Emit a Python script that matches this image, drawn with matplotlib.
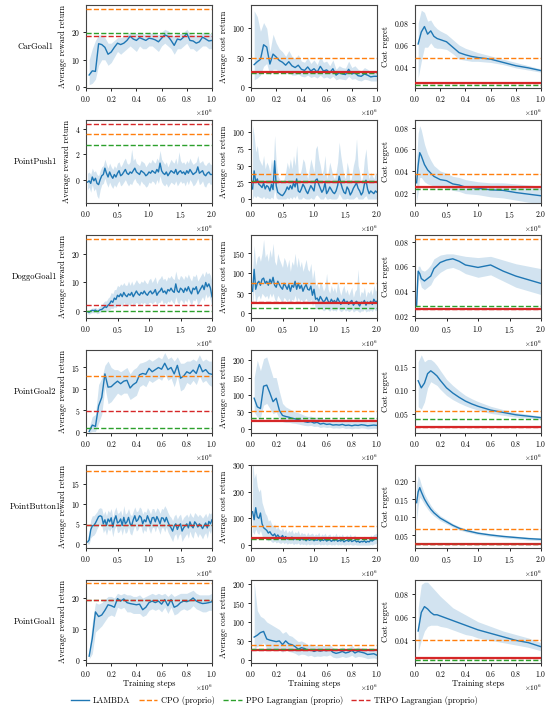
"""
    LAMBDA vs. proprioceptive baselines on Safety Gym tasks
    reward return / cost return / cost regret, one row per task
"""

import matplotlib.pyplot as plt
from matplotlib.lines import Line2D
import numpy as np

plt.rcParams['font.family'] = 'serif'
plt.rcParams['font.serif'] = ['cmr10', 'DejaVu Serif']
plt.rcParams['mathtext.fontset'] = 'cm'
plt.rcParams['axes.formatter.use_mathtext'] = True
plt.rcParams['font.size'] = 6

tasks = ['CarGoal1', 'PointPush1', 'DoggoGoal1', 'PointGoal2', 'PointButton1', 'PointGoal1']
total_steps = [1.0, 2.0, 2.0, 1.0, 2.0, 1.0]   # millions

# evaluation points (millions of steps)
x_1m = [0.025 * k for k in range(1, 41)]
x_2m = [0.025 * k for k in range(1, 81)]
reg_x_1m = [0.025, 0.05, 0.075, 0.1, 0.125, 0.15, 0.175, 0.2, 0.25, 0.3, 0.35, 0.4, 0.45, 0.5, 0.6, 0.7, 0.8, 0.9, 1.0]
reg_x_2m = [0.025, 0.05, 0.075, 0.1, 0.15, 0.2, 0.25, 0.3, 0.4, 0.5, 0.6, 0.7, 0.8, 1.0, 1.2, 1.4, 1.6, 1.8, 2.0]

# ---------------- CarGoal1 ----------------
cg1_rew = [4.5, 6.0, 5.8, 15.8, 15.5, 14.5, 12.0, 12.8, 14.5, 16.0, 15.5, 16.0, 17.0, 18.5, 17.5, 17.0, 18.0, 17.5, 17.0, 17.8,
           17.6, 17.2, 16.5, 17.8, 19.0, 18.5, 17.0, 15.2, 17.5, 17.2, 18.2, 19.5, 17.0, 16.8, 16.0, 16.5, 18.2, 17.5, 16.8, 17.0]
cg1_rew_lo = [1, 1.5, 3, 8, 10, 10, 8, 9, 11, 13, 12, 13, 14, 15, 14, 13, 15, 14, 14, 15,
              15, 14, 13, 15, 16, 15, 14, 12, 14, 14, 15, 16, 14, 14, 13, 14, 15, 15, 14, 14]
cg1_rew_hi = [10, 14, 17, 19, 19, 18, 16, 16, 17, 18, 18, 18.5, 19, 20, 19.5, 19.5, 20, 19.5, 19, 20,
              19.5, 19.5, 19, 20, 21, 20.5, 19.5, 18.5, 19.5, 19.5, 20, 21, 19.5, 19, 19, 19, 20, 19.5, 19.5, 19.5]
cg1_cost = [38, 43, 47, 72, 68, 39, 56, 51, 45, 42, 37, 43, 36, 33, 37, 30, 28, 34, 27, 31,
            25, 35, 27, 29, 24, 31, 20, 24, 22, 21, 30, 22, 24, 19, 18, 22, 20, 17, 18, 18]
cg1_cost_lo = [12, 15, 20, 35, 40, 20, 30, 30, 25, 25, 22, 25, 20, 20, 22, 18, 17, 20, 16, 18,
               15, 20, 15, 17, 14, 18, 12, 14, 13, 12, 18, 13, 14, 11, 10, 13, 12, 10, 10, 10]
cg1_cost_hi = [130, 120, 95, 110, 100, 60, 90, 75, 65, 60, 52, 62, 52, 48, 55, 44, 42, 50, 40, 46,
               38, 52, 42, 44, 36, 46, 30, 36, 33, 32, 44, 33, 36, 30, 27, 33, 30, 26, 28, 28]
cg1_reg = [0.061, 0.072, 0.077, 0.070, 0.073, 0.068, 0.066, 0.065, 0.063, 0.058, 0.053, 0.051, 0.0495, 0.0485, 0.047, 0.044, 0.041, 0.039, 0.0365]
cg1_reg_lo = [0.030, 0.045, 0.058, 0.058, 0.062, 0.058, 0.057, 0.057, 0.056, 0.052, 0.047, 0.046, 0.045, 0.045, 0.044, 0.042, 0.039, 0.037, 0.035]
cg1_reg_hi = [0.080, 0.092, 0.090, 0.082, 0.083, 0.078, 0.075, 0.073, 0.070, 0.065, 0.060, 0.057, 0.055, 0.053, 0.050, 0.047, 0.044, 0.041, 0.038]

# ---------------- PointPush1 ----------------
pp1_rew = [-0.2, -0.1, -0.3, 0.2, -0.1, 0.1, -0.3, -0.4, 0.0, 0.3, 0.4, 0.9, 0.5, 0.2, 0.6, 0.3, 0.1, 0.4, 0.2, 0.5,
           0.7, 0.3, 0.4, 0.6, 0.8, 0.5, 0.4, 0.6, 0.5, 0.7, 0.9, 0.6, 0.5, 0.4, 0.7, 0.6, 0.5, 0.3, 0.4, 0.6,
           0.5, 0.7, 0.6, 0.5, 0.8, 0.6, 1.3, 0.7, 0.5, 0.4, 0.6, 0.3, 0.5, 0.7, 0.6, 0.5, 0.8, 0.4, 0.6, 0.7,
           0.5, 0.6, 0.4, 0.7, 0.5, 0.8, 0.6, 0.4, 0.5, 0.6, 1.0, 0.5, 0.6, 0.7, 0.4, 0.3, 0.5, 0.6, 0.4, 0.4]
pp1_rew_lo = [-0.8, -0.6, -1.0, -0.4, -0.9, -0.7, -1.3, -1.5, -0.8, -0.4, -0.3, 0.1, -0.3, -0.6, -0.2, -0.5, -0.7, -0.4, -0.6, -0.3,
              -0.1, -0.5, -0.4, -0.2, 0.0, -0.3, -0.5, -0.3, -0.4, -0.1, 0.1, -0.2, -0.3, -0.5, -0.1, -0.3, -0.4, -0.6, -0.5, -0.2,
              -0.3, -0.1, -0.2, -0.4, 0.0, -0.3, 0.3, -0.2, -0.4, -0.5, -0.3, -0.6, -0.4, -0.2, -0.3, -0.4, -0.1, -0.5, -0.3, -0.1,
              -0.3, -0.2, -0.5, -0.1, -0.4, 0.0, -0.2, -0.5, -0.4, -0.2, 0.1, -0.4, -0.3, -0.1, -0.5, -0.6, -0.3, -0.2, -0.4, -0.3]
pp1_rew_hi = [0.5, 0.6, 0.4, 0.9, 0.6, 0.7, 0.4, 0.3, 0.7, 1.0, 1.1, 1.6, 1.2, 0.9, 1.3, 1.0, 0.8, 1.1, 0.9, 1.3,
              1.4, 1.0, 1.2, 1.5, 1.7, 1.3, 1.2, 1.4, 2.4, 1.5, 1.7, 1.3, 1.2, 1.1, 1.5, 1.4, 1.3, 1.0, 1.2, 1.4,
              1.3, 1.6, 1.4, 1.3, 1.7, 1.5, 2.3, 1.6, 1.4, 1.2, 1.4, 1.0, 1.3, 1.6, 1.4, 1.3, 1.7, 1.2, 2.2, 1.5,
              1.3, 1.4, 1.2, 1.5, 1.3, 1.7, 1.4, 1.2, 1.3, 1.4, 1.9, 1.3, 1.4, 1.5, 1.2, 1.1, 1.3, 1.4, 1.2, 1.2]
pp1_cost = [15, 42, 25, 30, 22, 20, 17, 24, 15, 20, 18, 12, 22, 14, 57, 20, 10, 8, 6, 5,
            8, 12, 18, 14, 20, 15, 24, 18, 30, 12, 10, 15, 22, 18, 12, 8, 14, 20, 16, 12,
            28, 30, 22, 16, 10, 14, 24, 8, 12, 18, 14, 10, 8, 12, 20, 34, 24, 16, 10, 8,
            18, 14, 6, 10, 16, 20, 24, 16, 12, 6, 10, 22, 28, 15, 8, 12, 10, 8, 12, 10]
pp1_cost_lo = [0, 5, 2, 5, 3, 2, 1, 4, 0, 2, 1, 0, 3, 0, 15, 2, 0, 0, 0, 0,
               0, 0, 2, 0, 3, 0, 4, 1, 6, 0, 0, 0, 3, 1, 0, 0, 0, 2, 0, 0,
               5, 6, 3, 0, 0, 0, 4, 0, 0, 1, 0, 0, 0, 0, 2, 8, 4, 0, 0, 0,
               1, 0, 0, 0, 0, 2, 4, 0, 0, 0, 0, 3, 5, 0, 0, 0, 0, 0, 0, 0]
pp1_cost_hi = [110, 95, 70, 80, 60, 55, 50, 65, 45, 55, 50, 40, 60, 45, 95, 55, 35, 30, 28, 25,
               30, 40, 55, 45, 60, 45, 65, 50, 80, 40, 35, 45, 60, 55, 40, 30, 45, 60, 50, 40,
               75, 80, 60, 50, 35, 45, 65, 30, 40, 55, 45, 35, 30, 40, 55, 85, 65, 50, 35, 30,
               55, 45, 25, 35, 50, 60, 90, 50, 40, 25, 35, 60, 75, 45, 30, 40, 35, 30, 40, 35]
pp1_reg = [0.029, 0.045, 0.057, 0.054, 0.046, 0.041, 0.038, 0.035, 0.032, 0.031, 0.028, 0.027, 0.025, 0.024, 0.0225, 0.022, 0.020, 0.0185, 0.017]
pp1_reg_lo = [0.012, 0.020, 0.034, 0.034, 0.030, 0.028, 0.027, 0.026, 0.025, 0.024, 0.022, 0.021, 0.019, 0.018, 0.016, 0.015, 0.013, 0.011, 0.010]
pp1_reg_hi = [0.050, 0.075, 0.082, 0.078, 0.065, 0.056, 0.050, 0.045, 0.040, 0.038, 0.035, 0.034, 0.032, 0.030, 0.029, 0.029, 0.028, 0.027, 0.026]

# ---------------- DoggoGoal1 ----------------
dg1_rew = [-0.3, -0.5, 0.0, 0.2, 0.1, 0.3, -0.2, 0.0, 0.4, 0.5, 1.0, 1.5, 1.2, 2.0, 2.5, 3.5, 3.0, 4.5, 4.0, 5.5,
           5.0, 6.0, 5.0, 6.5, 5.5, 5.0, 6.0, 5.5, 6.5, 5.0, 6.0, 7.0, 6.0, 5.5, 6.5, 6.0, 7.0, 6.0, 5.5, 6.5,
           7.0, 6.0, 6.5, 7.5, 5.5, 6.5, 7.0, 8.0, 6.5, 7.0, 6.0, 7.5, 7.0, 8.0, 7.0, 6.5, 9.5, 7.0, 6.5, 8.0,
           7.5, 6.5, 8.0, 7.0, 8.5, 7.0, 6.0, 8.0, 7.5, 8.5, 6.0, 7.0, 8.0, 9.0, 7.5, 10.0, 8.5, 9.5, 8.0, 5.0]
dg1_rew_lo = [-1.0, -1.2, -0.8, -0.6, -0.7, -0.5, -1.0, -0.8, -0.4, -0.3, -0.2, 0.0, -0.2, 0.2, 0.5, 1.0, 0.8, 1.5, 1.2, 2.0,
              1.5, 2.5, 1.5, 3.0, 2.0, 1.5, 2.5, 2.0, 3.0, 1.5, 2.5, 3.0, 2.5, 2.0, 3.0, 2.5, 3.0, 2.5, 2.0, 3.0,
              3.0, 2.5, 3.0, 3.5, 2.0, 3.0, 3.0, 4.0, 2.5, 3.0, 2.5, 3.5, 3.0, 4.0, 3.0, 2.5, 5.0, 3.0, 2.5, 4.0,
              3.5, 2.5, 4.0, 3.0, 4.5, 3.0, 2.0, 4.0, 3.5, 4.5, 2.0, 3.0, 4.0, 5.0, 3.5, 6.0, 4.5, 5.5, 4.0, 1.5]
dg1_rew_hi = [0.5, 0.3, 0.8, 1.0, 1.0, 1.3, 0.8, 1.2, 1.8, 2.0, 3.0, 3.5, 3.5, 4.5, 5.0, 6.5, 6.0, 7.5, 7.5, 9.0,
              8.5, 9.5, 9.0, 10.0, 9.0, 9.0, 10.5, 9.0, 10.5, 9.0, 10.0, 11.0, 10.0, 9.5, 10.5, 10.0, 11.0, 10.0, 9.5, 11.0,
              11.5, 10.0, 11.0, 12.0, 9.5, 11.0, 11.5, 12.5, 11.0, 11.5, 10.5, 12.0, 11.5, 12.5, 11.5, 11.0, 14.0, 11.5, 11.0, 12.5,
              12.0, 11.0, 12.5, 11.5, 13.0, 11.5, 10.5, 12.5, 12.0, 13.0, 10.5, 11.5, 12.5, 13.5, 12.0, 14.0, 13.0, 13.5, 12.5, 10.0]
dg1_cost = [55, 110, 60, 75, 80, 70, 85, 88, 75, 80, 70, 85, 75, 90, 70, 65, 80, 72, 65, 60,
            75, 68, 60, 72, 55, 70, 65, 80, 60, 75, 62, 70, 55, 65, 72, 60, 58, 68, 45, 60,
            35, 38, 30, 42, 35, 28, 32, 40, 30, 25, 35, 28, 32, 25, 38, 30, 22, 28, 35, 25,
            30, 22, 28, 32, 20, 26, 30, 24, 18, 28, 25, 32, 20, 28, 24, 30, 22, 35, 28, 30]
dg1_cost_lo = [20, 60, 25, 40, 45, 35, 50, 45, 40, 45, 35, 50, 40, 50, 35, 30, 45, 38, 32, 28,
               40, 35, 28, 38, 25, 35, 32, 45, 28, 40, 30, 35, 25, 32, 38, 28, 26, 35, 18, 28,
               10, 12, 8, 15, 10, 6, 8, 14, 8, 5, 10, 6, 8, 5, 12, 8, 4, 6, 10, 5,
               8, 4, 6, 10, 3, 6, 8, 5, 2, 6, 5, 10, 3, 6, 5, 8, 4, 12, 6, 8]
dg1_cost_hi = [110, 170, 120, 140, 145, 130, 150, 185, 140, 150, 130, 160, 140, 175, 130, 120, 150, 135, 125, 115,
               140, 130, 115, 135, 105, 130, 120, 150, 115, 140, 115, 130, 105, 120, 135, 110, 105, 125, 85, 110,
               70, 75, 60, 80, 70, 55, 65, 100, 60, 50, 70, 55, 65, 50, 80, 60, 45, 60, 70, 50,
               60, 45, 55, 65, 40, 55, 60, 110, 40, 55, 50, 65, 40, 55, 50, 60, 45, 70, 55, 60]
dg1_reg = [0.028, 0.056, 0.054, 0.050, 0.048, 0.050, 0.052, 0.058, 0.063, 0.065, 0.066, 0.064, 0.061, 0.059, 0.061, 0.056, 0.052, 0.049, 0.046]
dg1_reg_lo = [0.022, 0.050, 0.048, 0.043, 0.041, 0.043, 0.045, 0.050, 0.055, 0.058, 0.059, 0.057, 0.054, 0.051, 0.053, 0.048, 0.043, 0.040, 0.037]
dg1_reg_hi = [0.045, 0.060, 0.060, 0.057, 0.056, 0.058, 0.061, 0.066, 0.069, 0.070, 0.070, 0.069, 0.068, 0.067, 0.068, 0.065, 0.062, 0.060, 0.058]

# ---------------- PointGoal2 ----------------
pg2_rew = [0.0, 1.5, 1.2, 6.0, 8.0, 13.5, 10.4, 10.5, 11.2, 11.8, 11.2, 11.8, 12.0, 10.2, 11.0, 11.5, 13.3, 13.6, 13.4, 14.8,
           14.0, 14.5, 15.0, 14.6, 16.0, 14.5, 15.0, 13.5, 15.5, 12.5, 13.0, 14.0, 13.6, 14.4, 13.6, 15.7, 14.0, 14.5, 13.6, 13.4]
pg2_rew_lo = [-0.3, 0.0, 0.0, 2.0, 4.0, 10.5, 6.5, 7.0, 8.0, 9.0, 8.5, 9.0, 9.0, 7.5, 8.0, 8.5, 10.5, 11.0, 10.5, 12.0,
              11.5, 12.0, 12.5, 12.0, 13.5, 12.0, 12.5, 10.5, 13.0, 9.5, 10.0, 11.5, 11.0, 12.0, 11.0, 13.0, 11.5, 12.0, 11.0, 10.5]
pg2_rew_hi = [1.0, 3.5, 4.0, 11.0, 12.5, 15.5, 16.5, 15.0, 14.5, 14.5, 14.0, 14.5, 15.0, 13.5, 14.5, 15.0, 16.0, 16.2, 16.5, 17.0,
              16.5, 17.0, 17.5, 17.0, 18.5, 17.0, 17.5, 16.5, 17.5, 16.0, 16.0, 16.5, 16.5, 17.0, 16.5, 18.0, 16.5, 17.0, 16.5, 16.5]
pg2_cost = [90, 65, 60, 125, 128, 105, 80, 90, 55, 40, 37, 35, 32, 30, 28, 25, 22, 20, 22, 18,
            20, 15, 17, 14, 15, 12, 13, 12, 14, 11, 12, 10, 12, 11, 13, 12, 10, 11, 12, 11]
pg2_cost_lo = [50, 35, 35, 70, 75, 60, 45, 50, 30, 22, 20, 20, 18, 17, 15, 13, 11, 10, 11, 8,
               9, 5, 7, 5, 6, 3, 4, 3, 5, 2, 3, 1, 3, 2, 4, 3, 1, 2, 3, 2]
pg2_cost_hi = [150, 200, 170, 205, 210, 180, 150, 150, 110, 75, 65, 60, 55, 50, 48, 44, 40, 37, 38, 34,
               35, 30, 32, 28, 29, 26, 27, 25, 27, 24, 25, 22, 24, 23, 25, 24, 21, 22, 23, 22]
pg2_reg = [0.120, 0.105, 0.115, 0.135, 0.141, 0.136, 0.130, 0.121, 0.105, 0.094, 0.085, 0.077, 0.071, 0.066, 0.058, 0.053, 0.048, 0.045, 0.042]
pg2_reg_lo = [0.065, 0.060, 0.075, 0.105, 0.118, 0.114, 0.110, 0.102, 0.089, 0.080, 0.073, 0.067, 0.062, 0.058, 0.051, 0.047, 0.043, 0.041, 0.039]
pg2_reg_hi = [0.160, 0.175, 0.160, 0.165, 0.165, 0.160, 0.152, 0.142, 0.123, 0.110, 0.099, 0.089, 0.082, 0.076, 0.066, 0.059, 0.053, 0.049, 0.045]

# ---------------- PointButton1 ----------------
pb1_rew = [0.5, 1.0, 3.5, 4.5, 4.6, 5.2, 6.0, 6.8, 7.0, 6.8, 5.0, 6.0, 4.6, 6.2, 5.5, 6.5, 4.2, 6.0, 7.0, 5.2,
           5.5, 6.2, 4.6, 6.6, 5.0, 5.5, 6.6, 5.0, 4.6, 6.0, 7.0, 5.6, 6.0, 7.0, 6.6, 5.0, 6.0, 5.5, 7.0, 6.0,
           5.0, 6.5, 6.6, 5.5, 6.8, 6.0, 5.0, 6.5, 6.4, 5.5, 6.6, 5.5, 4.6, 4.0, 3.2, 4.5, 5.0, 3.6, 4.6, 5.0,
           3.2, 4.0, 4.5, 5.0, 4.0, 5.5, 4.5, 4.0, 5.5, 5.0, 4.2, 5.0, 4.5, 3.8, 4.6, 5.2, 4.0, 5.6, 5.0, 6.0]
pb1_rew_lo = [0.0, 0.0, 1.5, 2.0, 2.2, 2.8, 3.8, 4.5, 4.8, 4.6, 2.8, 3.6, 2.2, 3.8, 3.2, 4.0, 1.8, 3.6, 4.6, 2.8,
              3.0, 3.8, 2.2, 4.0, 2.6, 3.0, 4.2, 2.6, 2.2, 3.6, 4.6, 3.2, 3.6, 4.6, 4.2, 2.6, 3.6, 3.0, 4.6, 3.6,
              2.6, 4.0, 4.2, 3.0, 4.4, 3.6, 2.4, 4.0, 4.0, 3.0, 4.2, 3.0, 2.2, 1.4, 0.6, 2.0, 2.6, 1.0, 2.2, 2.6,
              0.6, 1.4, 2.0, 2.6, 1.4, 3.2, 2.0, 1.4, 3.2, 2.6, 1.6, 2.6, 2.0, 1.2, 2.2, 2.8, 1.4, 3.4, 2.6, 4.0]
pb1_rew_hi = [1.5, 3.0, 6.0, 7.0, 7.0, 7.5, 8.0, 8.8, 9.0, 8.8, 7.2, 8.2, 7.0, 8.4, 7.8, 8.8, 6.6, 8.2, 9.2, 7.6,
              7.8, 8.4, 7.0, 9.5, 7.4, 7.8, 8.8, 7.4, 7.0, 8.2, 9.2, 8.0, 8.2, 9.2, 8.8, 7.4, 8.2, 7.8, 9.0, 8.4,
              7.4, 8.8, 8.8, 7.8, 9.0, 8.6, 7.6, 8.8, 8.6, 9.5, 8.8, 7.8, 7.0, 6.6, 5.8, 7.0, 7.4, 6.2, 7.0, 7.4,
              5.8, 6.6, 7.0, 7.4, 6.6, 7.8, 7.0, 6.6, 7.8, 7.4, 6.8, 7.4, 7.0, 6.4, 7.0, 7.6, 6.6, 7.8, 7.4, 8.0]
pb1_cost = [125, 95, 140, 105, 100, 120, 80, 65, 60, 55, 45, 50, 40, 35, 42, 30, 38, 30, 28, 36,
            25, 32, 22, 28, 24, 30, 20, 26, 22, 28, 18, 24, 20, 22, 16, 24, 18, 20, 22, 16,
            20, 18, 24, 15, 20, 17, 22, 15, 18, 20, 14, 18, 16, 22, 14, 18, 15, 20, 12, 16,
            18, 14, 20, 13, 16, 18, 12, 15, 10, 14, 12, 16, 10, 14, 12, 18, 15, 20, 22, 25]
pb1_cost_lo = [50, 40, 60, 45, 40, 55, 35, 25, 25, 20, 15, 20, 12, 10, 15, 8, 12, 8, 6, 12,
               5, 10, 3, 8, 5, 8, 2, 6, 4, 8, 1, 5, 2, 4, 0, 5, 1, 3, 4, 0,
               3, 2, 5, 0, 3, 1, 4, 0, 2, 3, 0, 2, 0, 4, 0, 2, 0, 3, 0, 0,
               2, 0, 3, 0, 0, 2, 0, 0, 0, 0, 0, 0, 0, 0, 0, 2, 0, 4, 5, 8]
pb1_cost_hi = [320, 250, 270, 220, 200, 210, 160, 140, 120, 110, 90, 95, 80, 70, 80, 60, 70, 58, 55, 65,
               50, 60, 45, 55, 48, 58, 42, 50, 45, 55, 38, 48, 42, 45, 35, 48, 38, 42, 45, 35,
               42, 38, 48, 32, 42, 36, 45, 32, 38, 42, 30, 38, 34, 45, 30, 38, 32, 42, 28, 34,
               38, 30, 42, 28, 34, 38, 26, 32, 24, 30, 26, 34, 24, 30, 26, 38, 32, 40, 42, 45]
pb1_reg = [0.140, 0.170, 0.182, 0.170, 0.150, 0.135, 0.122, 0.112, 0.097, 0.087, 0.077, 0.069, 0.063, 0.055, 0.050, 0.046, 0.043, 0.040, 0.038]
pb1_reg_lo = [0.090, 0.130, 0.155, 0.150, 0.135, 0.122, 0.111, 0.103, 0.090, 0.081, 0.072, 0.064, 0.059, 0.051, 0.046, 0.042, 0.039, 0.036, 0.034]
pb1_reg_hi = [0.190, 0.215, 0.205, 0.190, 0.165, 0.148, 0.133, 0.121, 0.104, 0.093, 0.082, 0.074, 0.067, 0.059, 0.054, 0.050, 0.047, 0.044, 0.042]

# ---------------- PointGoal1 ----------------
pg1_rew = [1.2, 7.0, 15.5, 14.0, 14.5, 16.0, 17.8, 17.5, 17.0, 19.8, 19.0, 19.7, 18.5, 18.2, 18.0, 17.8, 18.0, 16.2, 17.0, 18.5,
           19.0, 18.5, 19.0, 18.0, 19.5, 17.5, 19.5, 17.0, 17.5, 18.5, 19.0, 18.8, 19.2, 20.0, 19.0, 18.5, 18.2, 18.3, 18.5, 18.8]
pg1_rew_lo = [0.3, 2.0, 9.0, 10.0, 11.0, 12.5, 14.0, 14.5, 14.0, 17.0, 16.5, 17.0, 15.5, 15.5, 15.0, 15.0, 15.0, 14.0, 14.5, 16.0,
              16.5, 16.0, 16.5, 15.5, 17.0, 15.0, 17.0, 14.5, 15.0, 16.0, 16.5, 16.0, 16.5, 17.5, 16.5, 16.0, 15.5, 15.5, 16.0, 16.0]
pg1_rew_hi = [3.0, 12.0, 18.5, 18.0, 18.5, 19.5, 20.5, 20.5, 20.0, 21.5, 21.0, 21.5, 21.0, 21.0, 20.5, 20.5, 21.0, 20.0, 20.5, 21.0,
              21.5, 21.0, 21.5, 21.0, 21.5, 20.5, 21.5, 20.5, 21.0, 21.5, 21.5, 21.5, 22.0, 22.5, 21.5, 21.0, 21.0, 21.0, 21.0, 21.5]
pg1_cost = [60, 65, 72, 75, 55, 52, 50, 48, 50, 40, 50, 42, 40, 35, 28, 32, 30, 25, 27, 22,
            25, 23, 25, 24, 27, 20, 17, 19, 22, 18, 20, 25, 18, 22, 20, 18, 14, 15, 16, 12]
pg1_cost_lo = [30, 35, 40, 45, 30, 28, 27, 25, 28, 20, 28, 22, 20, 17, 12, 15, 14, 10, 12, 8,
               10, 9, 11, 10, 13, 7, 5, 6, 9, 6, 8, 12, 6, 9, 8, 6, 3, 4, 5, 2]
pg1_cost_hi = [205, 130, 115, 110, 100, 95, 90, 85, 80, 70, 75, 65, 62, 55, 48, 50, 46, 40, 42, 36,
               38, 36, 38, 36, 40, 32, 28, 30, 34, 30, 32, 38, 30, 34, 32, 30, 25, 26, 27, 22]
pg1_reg = [0.048, 0.064, 0.069, 0.067, 0.064, 0.062, 0.062, 0.061, 0.059, 0.057, 0.055, 0.053, 0.051, 0.049, 0.046, 0.043, 0.040, 0.038, 0.0345]
pg1_reg_lo = [0.030, 0.040, 0.048, 0.052, 0.053, 0.053, 0.053, 0.052, 0.051, 0.049, 0.047, 0.045, 0.044, 0.042, 0.040, 0.038, 0.036, 0.034, 0.031]
pg1_reg_hi = [0.068, 0.088, 0.090, 0.090, 0.087, 0.084, 0.081, 0.078, 0.073, 0.068, 0.065, 0.062, 0.059, 0.056, 0.052, 0.048, 0.045, 0.042, 0.038]

# ---------------- baselines (horizontal lines), one value per task ----------------
cpo_rew = [28.3, 3.6, 25.2, 13.0, 18.0, 24.7]
ppol_rew = [19.7, 2.7, 0.0, 0.8, 4.8, 19.3]
trpol_rew = [18.6, 4.35, 2.2, 4.7, 4.6, 19.4]
cpo_cost = [49, 37, 75, 52, 70, 39]
ppol_cost = [24.5, 27, 13, 33, 23, 28]
trpol_cost = [26, 26, 27, 28, 26, 25]
cost_limit = 25
cpo_reg = [0.0485, 0.0375, 0.082, 0.057, 0.068, 0.0405]
ppol_reg = [0.0235, 0.0233, 0.0275, 0.039, 0.026, 0.0235]
trpol_reg = [0.025, 0.0248, 0.0255, 0.023, 0.0245, 0.025]

ylims = [
    [(-0.2, 29.8), (-2, 140), (0.0205, 0.0968)],
    [(-1.85, 4.7), (-6, 118), (0.0103, 0.0873)],
    [(-2.5, 26.7), (-12, 196), (0.018, 0.0853)],
    [(-0.35, 19.1), (-11, 230), (0.0095, 0.185)],
    [(-1.0, 19.6), (-11, 300), (0.0138, 0.245)],
    [(-1.0, 25.8), (-8.5, 211), (0.0205, 0.0919)],
]

rew = [(cg1_rew, cg1_rew_lo, cg1_rew_hi), (pp1_rew, pp1_rew_lo, pp1_rew_hi), (dg1_rew, dg1_rew_lo, dg1_rew_hi),
       (pg2_rew, pg2_rew_lo, pg2_rew_hi), (pb1_rew, pb1_rew_lo, pb1_rew_hi), (pg1_rew, pg1_rew_lo, pg1_rew_hi)]
cost = [(cg1_cost, cg1_cost_lo, cg1_cost_hi), (pp1_cost, pp1_cost_lo, pp1_cost_hi), (dg1_cost, dg1_cost_lo, dg1_cost_hi),
        (pg2_cost, pg2_cost_lo, pg2_cost_hi), (pb1_cost, pb1_cost_lo, pb1_cost_hi), (pg1_cost, pg1_cost_lo, pg1_cost_hi)]
reg = [(cg1_reg, cg1_reg_lo, cg1_reg_hi), (pp1_reg, pp1_reg_lo, pp1_reg_hi), (dg1_reg, dg1_reg_lo, dg1_reg_hi),
       (pg2_reg, pg2_reg_lo, pg2_reg_hi), (pb1_reg, pb1_reg_lo, pb1_reg_hi), (pg1_reg, pg1_reg_lo, pg1_reg_hi)]

BLUE = '#1f77b4'
ORANGE = '#ff7f0e'
GREEN = '#2ca02c'
RED = '#d62728'

fig = plt.figure(figsize=(5.48, 7.05), dpi=100)
W, H = 548.0, 705.0
col_left = [86, 251, 415]
ax_w = 126
row_top = [5, 120, 235, 350, 465, 580]
ax_h = 83

def panel(ax, x, series, baselines, limit, ylim, xmax):
    m, lo, hi = series
    x = np.array(x) * 1e6
    ax.fill_between(x, lo, hi, color=BLUE, alpha=0.2, linewidth=0)
    ax.plot(x, m, color=BLUE, linewidth=1.0)
    if limit is not None:
        ax.axhline(limit, color=RED, linewidth=1.6, zorder=3)
    cpo, ppol, trpol = baselines
    ax.axhline(cpo, color=ORANGE, linestyle='--', linewidth=1.0, zorder=4)
    ax.axhline(ppol, color=GREEN, linestyle='--', linewidth=1.0, zorder=4)
    ax.axhline(trpol, color=RED, linestyle='--', linewidth=1.0, zorder=4)
    ax.set_xlim(0, xmax * 1e6)
    ax.set_ylim(*ylim)
    if xmax == 1.0:
        ax.set_xticks(np.array([0, 0.2, 0.4, 0.6, 0.8, 1.0]) * 1e6)
    else:
        ax.set_xticks(np.array([0, 0.5, 1.0, 1.5, 2.0]) * 1e6)
    ax.tick_params(labelsize=5.5, length=2.5, width=0.6, pad=1.5)
    ax.xaxis.get_offset_text().set_fontsize(5.2)
    for s in ax.spines.values():
        s.set_linewidth(0.8)
        s.set_color('#444444')

for i, task in enumerate(tasks):
    bottom = 1 - (row_top[i] + ax_h) / H
    axes = [fig.add_axes([col_left[j] / W, bottom, ax_w / W, ax_h / H]) for j in range(3)]
    xs = x_1m if total_steps[i] == 1.0 else x_2m
    rx = reg_x_1m if total_steps[i] == 1.0 else reg_x_2m

    panel(axes[0], xs, rew[i], (cpo_rew[i], ppol_rew[i], trpol_rew[i]), None, ylims[i][0], total_steps[i])
    panel(axes[1], xs, cost[i], (cpo_cost[i], ppol_cost[i], trpol_cost[i]), cost_limit, ylims[i][1], total_steps[i])
    panel(axes[2], rx, reg[i], (cpo_reg[i], ppol_reg[i], trpol_reg[i]), trpol_reg[i], ylims[i][2], total_steps[i])

    axes[0].set_ylabel('Average reward return', fontsize=6, labelpad=3)
    axes[1].set_ylabel('Average cost return', fontsize=6, labelpad=3)
    axes[2].set_ylabel('Cost regret', fontsize=6, labelpad=3)
    if i == len(tasks) - 1:
        for a in axes:
            a.set_xlabel('Training steps', fontsize=6, labelpad=0.5)

    fig.text(35 / W, 1 - (row_top[i] + ax_h / 2) / H, task, fontsize=6.2, ha='center', va='center')

handles = [Line2D([], [], color=BLUE, linewidth=1.0),
           Line2D([], [], color=ORANGE, linestyle='--', linewidth=1.0),
           Line2D([], [], color=GREEN, linestyle='--', linewidth=1.0),
           Line2D([], [], color=RED, linestyle='--', linewidth=1.0)]
labels = ['LAMBDA', 'CPO (proprio)', 'PPO Lagrangian (proprio)', 'TRPO Lagrangian (proprio)']
fig.legend(handles, labels, loc='center', bbox_to_anchor=(0.5, 1 - 700.5 / H), ncol=4, frameon=False,
           fontsize=6, handlelength=2.2, columnspacing=1.0, handletextpad=0.5,
           borderpad=0.1, borderaxespad=0.0)

fig.savefig('out.png', dpi=100)
